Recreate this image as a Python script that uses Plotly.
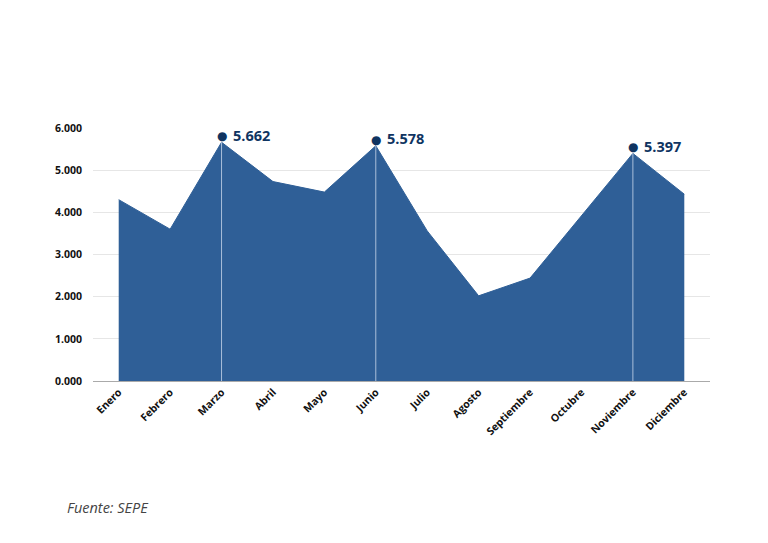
import plotly.graph_objects as go

# Datos (miles)
meses = ["Enero", "Febrero", "Marzo", "Abril", "Mayo", "Junio", "Julio",
         "Agosto", "Septiembre", "Octubre", "Noviembre", "Diciembre"]
valores = [4.300, 3.600, 5.662, 4.730, 4.480, 5.578, 3.560,
           2.020, 2.440, 3.930, 5.397, 4.430]
destacados = ["Marzo", "Junio", "Noviembre"]

azul = "#2f5f97"
azul_osc = "#0f3461"

fig = go.Figure()
fig.add_trace(go.Scatter(
    x=meses, y=valores, mode="lines", fill="tozeroy",
    fillcolor=azul, line=dict(color=azul, width=1),
    hoverinfo="x+y", showlegend=False))

for m in destacados:
    v = valores[meses.index(m)]
    # linea vertical clara
    fig.add_shape(type="line", xref="x", yref="y", x0=m, x1=m, y0=0, y1=v,
                  line=dict(color="rgba(200,215,235,0.8)", width=1))
    # punto
    fig.add_annotation(x=m, y=v, text="●", showarrow=False, yshift=6,
                       font=dict(size=12, color=azul_osc, family="DejaVu Sans"))
    # etiqueta
    fig.add_annotation(x=m, y=v, text="<b>%s</b>" % f"{v:.3f}",
                       showarrow=False, xanchor="left", yshift=7, xshift=9,
                       font=dict(size=14.5, color=azul_osc, family="Open Sans"))

fig.add_annotation(text="<i>Fuente: SEPE</i>", xref="paper", yref="paper",
                   x=-0.045, y=-0.545, xanchor="left", showarrow=False,
                   font=dict(size=14.5, color="#444444", family="Open Sans"))

fig.update_layout(
    width=752, height=527,
    margin=dict(l=85, r=50, t=120, b=154),
    paper_bgcolor="white", plot_bgcolor="white",
    font=dict(family="Open Sans", color="#111111"),
    xaxis=dict(range=[-0.5, 11.5], tickangle=-45, showgrid=False,
               automargin=False,
               tickfont=dict(size=10.5, family="Open Sans", color="#111111"),
               ticks="", showline=True, linecolor="#aaaaaa", linewidth=1,
               tickprefix="<b>", ticksuffix="</b>"),
    yaxis=dict(range=[0, 6], dtick=1, tickformat=".3f", automargin=False,
               gridcolor="#e6e6e6", gridwidth=1, zeroline=False,
               tickfont=dict(size=10.5, family="Open Sans", color="#111111"),
               tickprefix="<b>", ticksuffix="</b>", ticklabelstandoff=10),
)

fig.write_html("out.html")
